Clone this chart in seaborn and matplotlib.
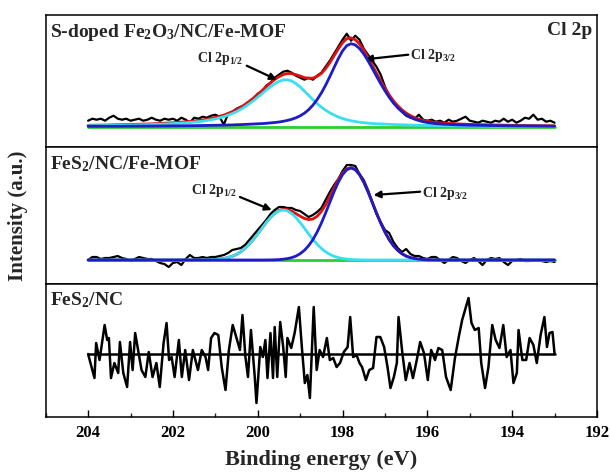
import numpy as np
import matplotlib
matplotlib.use("Agg")
import matplotlib.pyplot as plt
from matplotlib.ticker import MultipleLocator
import seaborn as sns

# ---------------- data ----------------
# energy grid of the measured spectra (0.1 eV step, 204.0 -> 193.0 eV)
DATA_E = np.arange(2040, 1929, -1) / 10.0

TOP_RAW = [6, 8, 7, 8, 6, 9, 11, 8, 7, 8,
           6, 7, 8, 6, 7, 9, 7, 6, 8, 7,
           8, 6, 9, 7, 4, 9, 8, 10, 9, 11,
           12, 10, 2, 13, 15, 18, 20, 21, 25, 28,
           33, 35, 41, 44, 49, 52, 55, 56, 54, 51, 49,
           47, 49, 47, 51, 54, 60, 66, 73, 80, 87,
           93, 86, 91, 87, 78, 72, 66, 60, 52, 40,
           31, 24, 19, 15, 11, 9, 8, 12, 7, 6,
           7, 5, 6, 4, 7, 5, 6, 8, 10, 6,
           5, 4, 6, 5, 4, 6, 5, 8, 5, 7,
           4, 6, 9, 8, 12, 7, 8, 5, 6, 4]

MID_RAW = [0, 3, 3, 1, 2, 2, 3, 4, 2, 1,
           -1, 1, 3, 2, 1, 1, -1, -3, -4, -7,
           -3, -2, -5, 1, 5, 2, 2, 3, 2, 3,
           3, 4, 5, 7, 10, 11, 12, 15, 20, 25,
           30, 35, 40, 46, 50, 53, 53, 52, 52, 50, 49,
           46, 43, 45, 48, 52, 60, 68, 75, 81, 89,
           95, 95, 94, 86, 80, 70, 58, 46, 38, 30,
           27, 18, 12, 8, 11, 6, 4, 4, 2, 1,
           3, 3, 0, -3, 0, 3, 2, -1, -3, 0,
           2, -1, -5, 0, 2, 1, 2, -2, -5, -1,
           0, 1, -1, -1, 0, 0, -1, -2, -1, -2]

# fitted components
FIT_E = [204.0, 203.5, 203.0, 202.5, 202.0, 201.6, 201.3, 201.0, 200.8,
         200.6, 200.5, 200.4, 200.3, 200.2, 200.1, 200.0, 199.9, 199.8, 199.7,
         199.6, 199.5, 199.4, 199.3, 199.2, 199.1, 199.0, 198.9, 198.8, 198.7,
         198.6, 198.5, 198.4, 198.3, 198.2, 198.1, 198.0, 197.9, 197.8, 197.7,
         197.6, 197.5, 197.4, 197.3, 197.2, 197.1, 197.0, 196.9, 196.8, 196.7,
         196.6, 196.5, 196.4, 196.3, 196.2, 196.1, 196.0,
         195.8, 195.6, 195.3, 195.0, 194.5, 194.0, 193.5, 193.0]

TOP_P12 = [1.0, 1.3, 1.7, 2.2, 3.1, 4.2, 5.5, 7.8, 10.0,
           13.2, 15.1, 17.4, 20.0, 22.9, 26.0, 29.5, 33.0, 36.6, 40.0,
           43.0, 45.3, 46.7, 46.9, 45.7, 43.2, 39.8, 35.6, 31.4, 27.1,
           23.2, 19.6, 16.5, 13.9, 11.7, 9.7, 8.2, 7.0, 5.9, 5.2,
           4.5, 4.0, 3.6, 3.2, 3.0, 2.8, 2.6, 2.4, 2.2, 2.0,
           1.9, 1.75, 1.65, 1.5, 1.45, 1.35, 1.25,
           1.15, 1.05, 0.9, 0.8, 0.62, 0.5, 0.43, 0.38]
TOP_P32 = [0.4, 0.45, 0.55, 0.65, 0.85, 1.0, 1.2, 1.45, 1.6,
           1.8, 2.0, 2.1, 2.3, 2.5, 2.7, 2.9, 3.1, 3.4, 3.8,
           4.2, 4.7, 5.4, 6.3, 7.4, 8.9, 10.9, 13.5, 17.0, 21.5,
           27.1, 33.7, 41.5, 50.1, 59.2, 68.1, 75.8, 81.1, 83.0, 81.8,
           78.2, 72.8, 65.9, 58.4, 50.6, 43.0, 35.9, 29.4, 23.7, 19.0,
           15.1, 11.9, 9.5, 7.5, 6.1, 5.0, 4.2,
           3.1, 2.5, 1.9, 1.55, 1.2, 0.9, 0.7, 0.55]

MID_P12 = [0, 0, 0, 0, 0, 0, 0.1, 0.5, 1.5,
           3.7, 5.6, 8.2, 11.6, 15.8, 20.7, 26.1, 31.9, 37.5, 42.5,
           46.5, 49.1, 50.0, 49.1, 46.5, 42.5, 37.5, 31.9, 26.1, 20.7,
           15.8, 11.6, 8.2, 5.6, 3.7, 2.4, 1.5, 0.9, 0.5, 0.3,
           0.15, 0.1, 0.05, 0, 0, 0, 0, 0, 0, 0,
           0, 0, 0, 0, 0, 0, 0,
           0, 0, 0, 0, 0, 0, 0, 0]
MID_P32 = [0, 0, 0, 0, 0, 0, 0, 0, 0,
           0, 0, 0, 0, 0, 0, 0, 0, 0.05, 0.1,
           0.2, 0.4, 0.8, 1.4, 2.4, 3.9, 6.3, 9.7, 14.3, 20.3,
           27.9, 36.9, 47.0, 57.7, 68.3, 77.8, 85.4, 90.3, 92.0, 90.3,
           85.4, 77.8, 68.3, 57.7, 47.0, 36.9, 27.9, 20.3, 14.3, 9.7,
           6.3, 3.9, 2.4, 1.4, 0.8, 0.4, 0.2,
           0.1, 0, 0, 0, 0, 0, 0, 0]

BASE_E = [204.0, 193.0]
BASE_I = [0.0, 0.0]

# FeS2/NC spectrum (noise only)
NC_E = [204.00, 203.85, 203.81, 203.73, 203.61, 203.55, 203.51, 203.46, 203.38, 203.29,
        203.25, 203.17, 203.08, 203.01, 202.95, 202.89, 202.81, 202.74, 202.65, 202.57,
        202.48, 202.39, 202.31, 202.22, 202.15, 202.09, 202.03, 201.96, 201.86, 201.79,
        201.71, 201.62, 201.53, 201.41, 201.32, 201.23, 201.17, 201.10, 201.02, 200.93,
        200.85, 200.76, 200.68, 200.59, 200.50, 200.42, 200.36, 200.29, 200.23, 200.16,
        200.07, 200.03, 199.94, 199.88, 199.82, 199.77, 199.70, 199.64, 199.60, 199.54,
        199.47, 199.40, 199.34, 199.30, 199.21, 199.13, 199.03, 198.96, 198.89, 198.83,
        198.77, 198.68, 198.61, 198.54, 198.46, 198.37, 198.30, 198.22, 198.14, 198.06,
        197.97, 197.88, 197.82, 197.75, 197.67, 197.60, 197.54, 197.45, 197.37, 197.28,
        197.20, 197.11, 197.02, 196.94, 196.87, 196.79, 196.72, 196.68, 196.59, 196.51,
        196.42, 196.34, 196.25, 196.17, 196.08, 195.99, 195.91, 195.82, 195.74, 195.65,
        195.56, 195.45, 195.35, 195.26, 195.18, 195.03, 194.96, 194.88, 194.79, 194.73,
        194.64, 194.56, 194.47, 194.39, 194.30, 194.21, 194.13, 194.04, 193.97, 193.89,
        193.85, 193.76, 193.67, 193.59, 193.50, 193.42, 193.33, 193.24, 193.18, 193.12,
        193.05, 193.00]
NC_I = [0, -24, 11, -6, 29, 14, 16, -24, -9, -19,
        12, -19, -33, 12, -16, 21, 1, -16, -23, 2,
        -23, -9, -33, 11, 31, -6, -3, -23, 14, -23,
        4, -26, 4, -16, 4, -3, -16, 16, 21, 19,
        -13, -36, 4, 29, 16, 4, 39, -3, -23, 24,
        -23, -49, 7, -3, 14, -24, 21, -24, 27, -23,
        32, 7, -23, 16, 6, 21, 47, 7, -29, -21,
        -44, 47, -16, 4, -3, 16, -6, -4, -13, -9,
        2, 7, 37, -3, -1, -9, -13, -26, -16, -14,
        17, 17, 7, -13, -34, -23, -9, 37, 1, -26,
        -9, -24, -6, 12, 1, -26, 4, -6, 6, 4,
        -23, -36, -4, 17, 34, 56, 31, 24, 26, -9,
        -34, -13, 29, 14, 6, 29, -3, 4, -29, -19,
        24, -6, -6, 16, 9, -9, 19, 37, 7, 21,
        22, 0]

TITLES = ["S-doped Fe$_2$O$_3$/NC/Fe-MOF", "FeS$_2$/NC/Fe-MOF", "FeS$_2$/NC"]
XTICKS = [204, 202, 200, 198, 196, 194, 192]

BLACK, RED, BLUE, CYAN, GREEN = "#000000", "#e01010", "#1c1cc8", "#38e0ee", "#2ecc2e"

# ---------------- style ----------------
sns.set_theme(style="white", rc={"axes.edgecolor": "black"})
plt.rcParams["font.family"] = ["Liberation Serif", "DejaVu Serif"]
plt.rcParams["font.weight"] = "bold"
plt.rcParams["mathtext.fontset"] = "custom"
plt.rcParams["mathtext.rm"] = "Liberation Serif:bold"
plt.rcParams["mathtext.bf"] = "Liberation Serif:bold"
plt.rcParams["mathtext.it"] = "Liberation Serif:bold"
plt.rcParams["axes.linewidth"] = 1.1

fig = plt.figure(figsize=(6.1, 4.72), dpi=100)
gs = fig.add_gridspec(3, 1, left=0.0749, right=0.9787, top=0.9682, bottom=0.1165,
                      hspace=0, height_ratios=[132, 137, 133])
axes = [fig.add_subplot(gs[i]) for i in range(3)]

def line(ax, x, y, color, lw, z):
    sns.lineplot(x=list(x), y=list(y), ax=ax, color=color, lw=lw, zorder=z,
                 estimator=None, sort=False, legend=False)

def fit_panel(ax, raw, p12, p32):
    envelope = np.array(p12) + np.array(p32)
    line(ax, DATA_E, raw, BLACK, 1.6, 1)
    line(ax, BASE_E, BASE_I, GREEN, 2.0, 2)
    line(ax, FIT_E, envelope, RED, 2.0, 3)
    line(ax, FIT_E, p12, CYAN, 2.0, 4)
    line(ax, FIT_E, p32, BLUE, 2.0, 5)

fit_panel(axes[0], TOP_RAW, TOP_P12, TOP_P32)
fit_panel(axes[1], MID_RAW, MID_P12, MID_P32)
line(axes[2], BASE_E, BASE_I, BLACK, 1.8, 2)
line(axes[2], NC_E, NC_I, BLACK, 1.8, 1)

axes[0].set_ylim(-20.3, 111.7)
axes[1].set_ylim(-24, 113)
axes[2].set_ylim(-63, 70)

for i, ax in enumerate(axes):
    ax.set_xlim(205, 192)
    ax.set_yticks([])
    ax.set_xlabel("")
    ax.set_ylabel("")
    for s in ax.spines.values():
        s.set_linewidth(1.1)
        s.set_color("black")
    ax.text(0.008, 0.955 if i == 2 else 0.945, TITLES[i], transform=ax.transAxes,
            ha="left", va="top", fontsize=14, fontweight="bold")
    if i < 2:
        ax.tick_params(axis="x", which="both", bottom=False, labelbottom=False)
    else:
        ax.set_xticks(XTICKS)
        ax.set_xticklabels([str(t) for t in XTICKS])
        ax.xaxis.set_minor_locator(MultipleLocator(1))
        ax.tick_params(axis="x", which="major", direction="in", length=5, width=1.0,
                       bottom=True, labelsize=12, pad=6, colors="black")
        ax.tick_params(axis="x", which="minor", direction="in", length=3, width=1.0,
                       bottom=True)
        for lab in ax.get_xticklabels():
            lab.set_fontweight("bold")

axes[0].text(0.991, 0.945, "Cl 2p", transform=axes[0].transAxes, ha="right", va="top",
             fontsize=14, fontweight="bold")

arrow = dict(arrowstyle="-|>", color="black", lw=1.6, mutation_scale=10,
             shrinkA=0, shrinkB=0)
# top panel annotations
axes[0].annotate("", xy=(199.55, 47), xytext=(200.26, 61), arrowprops=arrow)
axes[0].text(200.34, 68, "Cl 2p$_{1/2}$", ha="right", va="center", fontsize=10)
axes[0].annotate("", xy=(197.47, 67.4), xytext=(196.45, 72), arrowprops=arrow)
axes[0].text(196.41, 71, "Cl 2p$_{3/2}$", ha="left", va="center", fontsize=10)
# middle panel annotations
axes[1].annotate("", xy=(199.67, 50), xytext=(200.42, 63), arrowprops=arrow)
axes[1].text(200.49, 70, "Cl 2p$_{1/2}$", ha="right", va="center", fontsize=10)
axes[1].annotate("", xy=(197.27, 65), xytext=(196.17, 68.3), arrowprops=arrow)
axes[1].text(196.13, 67, "Cl 2p$_{3/2}$", ha="left", va="center", fontsize=10)

fig.text(0.527, 0.025, "Binding energy (eV)", ha="center", va="center",
         fontsize=16, fontweight="bold")
fig.text(0.03, 0.5424, "Intensity (a.u.)", ha="center", va="center", rotation=90,
         fontsize=15, fontweight="bold")

fig.savefig("out.png", dpi=100)
